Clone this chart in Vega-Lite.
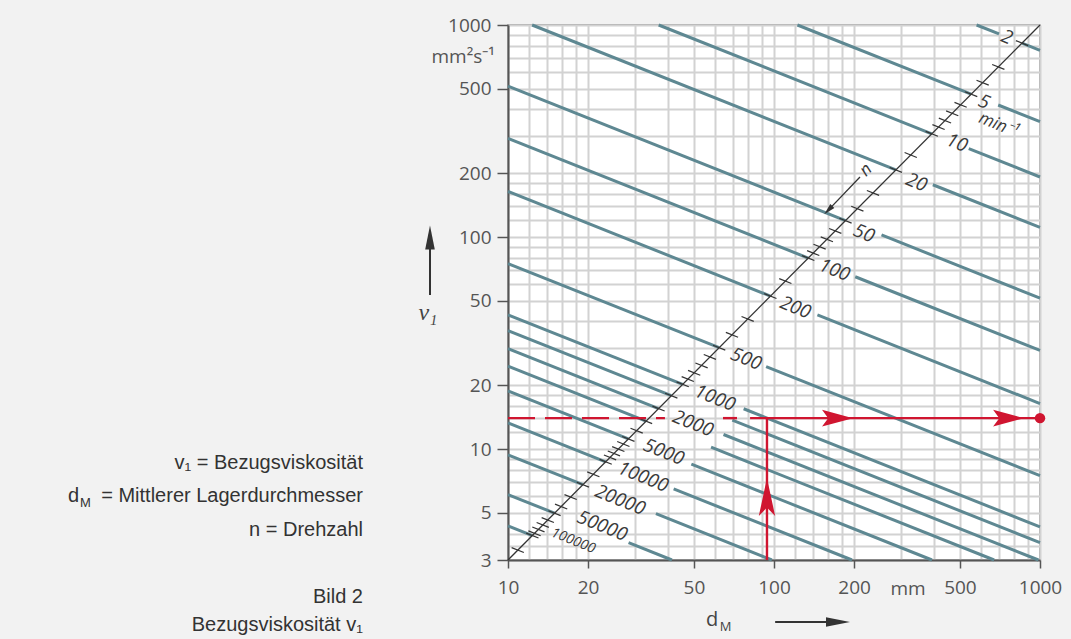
{
  "$schema": "https://vega.github.io/schema/vega-lite/v6.json",
  "width": 532,
  "height": 535,
  "autosize": {"type": "none"},
  "padding": {"left": 508, "top": 25, "right": 31, "bottom": 79},
  "background": "#f2f2f2",
  "config": {
    "view": {"fill": "#ffffff", "stroke": "#8c8c8c", "strokeWidth": 1.5},
    "axis": {"labelFont": "Open Sans", "labelFontSize": 19, "labelColor": "#555555", "domainColor": "#555555", "domainWidth": 2, "tickColor": "#555555", "tickWidth": 1.5, "gridColor": "#d2d2d2", "gridWidth": 2, "labelFlush": false, "labelOverlap": false}
  },
  "datasets": {
    "iso": [
      {"id": "2a", "dm": 577.6, "v": 1000}, {"id": "2a", "dm": 701.4, "v": 907.5},
      {"id": "2b", "dm": 855.6, "v": 821.4}, {"id": "2b", "dm": 1000, "v": 760},
      {"id": "5a", "dm": 122.5, "v": 1000}, {"id": "5a", "dm": 551.0, "v": 471.6},
      {"id": "5b", "dm": 696.2, "v": 419.5}, {"id": "5b", "dm": 1000, "v": 350},
      {"id": "10a", "dm": 36.86, "v": 1000}, {"id": "10a", "dm": 391.9, "v": 306.7},
      {"id": "10b", "dm": 539.8, "v": 261.3}, {"id": "10b", "dm": 1000, "v": 192},
      {"id": "20a", "dm": 12.32, "v": 1000}, {"id": "20a", "dm": 287.1, "v": 207.2},
      {"id": "20b", "dm": 395.5, "v": 176.5}, {"id": "20b", "dm": 1000, "v": 111},
      {"id": "50a", "dm": 10, "v": 515}, {"id": "50a", "dm": 185.7, "v": 119.5},
      {"id": "50b", "dm": 253.6, "v": 102.3}, {"id": "50b", "dm": 1000, "v": 51.5},
      {"id": "100a", "dm": 10, "v": 292}, {"id": "100a", "dm": 134.5, "v": 79.6},
      {"id": "100b", "dm": 202.0, "v": 65.0}, {"id": "100b", "dm": 1000, "v": 29.2},
      {"id": "200a", "dm": 10, "v": 164}, {"id": "200a", "dm": 96.9, "v": 52.7},
      {"id": "200b", "dm": 145.6, "v": 43.0}, {"id": "200b", "dm": 1000, "v": 16.4},
      {"id": "500a", "dm": 10, "v": 75}, {"id": "500a", "dm": 62.2, "v": 30.1},
      {"id": "500b", "dm": 93.4, "v": 24.5}, {"id": "500b", "dm": 1000, "v": 7.5},
      {"id": "1000a", "dm": 10, "v": 43}, {"id": "1000a", "dm": 45.35, "v": 20.2},
      {"id": "1000b", "dm": 76.9, "v": 15.5}, {"id": "1000b", "dm": 1000, "v": 4.3},
      {"id": "1500a", "dm": 10, "v": 36.2}, {"id": "1500a", "dm": 41.1, "v": 17.86},
      {"id": "1500b", "dm": 69.7, "v": 13.7}, {"id": "1500b", "dm": 1000, "v": 3.62},
      {"id": "2000a", "dm": 10, "v": 29.8}, {"id": "2000a", "dm": 36.8, "v": 15.54},
      {"id": "2000b", "dm": 64.6, "v": 11.72}, {"id": "2000b", "dm": 986.7, "v": 3},
      {"id": "3000a", "dm": 10, "v": 24.6}, {"id": "3000a", "dm": 33.03, "v": 13.54},
      {"id": "3000b", "dm": 58.0, "v": 10.21}, {"id": "3000b", "dm": 672.4, "v": 3},
      {"id": "5000a", "dm": 10, "v": 18.8}, {"id": "5000a", "dm": 28.35, "v": 11.17},
      {"id": "5000b", "dm": 48.9, "v": 8.5}, {"id": "5000b", "dm": 392.7, "v": 3},
      {"id": "10000a", "dm": 10, "v": 13.3}, {"id": "10000a", "dm": 23.29, "v": 8.71},
      {"id": "10000b", "dm": 41.95, "v": 6.49}, {"id": "10000b", "dm": 196.5, "v": 3},
      {"id": "20000a", "dm": 10, "v": 9.4}, {"id": "20000a", "dm": 19.12, "v": 6.8},
      {"id": "20000b", "dm": 35.98, "v": 4.96}, {"id": "20000b", "dm": 98.2, "v": 3},
      {"id": "50000a", "dm": 10, "v": 6.1}, {"id": "50000a", "dm": 14.96, "v": 4.99},
      {"id": "50000b", "dm": 28.4, "v": 3.62}, {"id": "50000b", "dm": 41.34, "v": 3},
      {"id": "100000a", "dm": 10, "v": 4.35}, {"id": "100000a", "dm": 12.35, "v": 3.91}
    ],
    "diag": [{"dm": 10, "v": 3}, {"dm": 1000, "v": 1000}],
    "nticks": [
      {"n": 2, "dm": 855.6, "v": 821.4}, {"n": 3, "dm": 697.0, "v": 634.3}, {"n": 4, "dm": 608.6, "v": 534.7},
      {"n": 5, "dm": 551.0, "v": 471.6}, {"n": 6, "dm": 502.9, "v": 420.3}, {"n": 7, "dm": 467.7, "v": 383.4},
      {"n": 8, "dm": 439.2, "v": 354.1}, {"n": 9, "dm": 415.5, "v": 330.2}, {"n": 10, "dm": 391.9, "v": 306.7},
      {"n": 15, "dm": 326.6, "v": 243.8}, {"n": 20, "dm": 287.1, "v": 207.2}, {"n": 30, "dm": 235.6, "v": 161.4},
      {"n": 40, "dm": 205.7, "v": 136.1}, {"n": 50, "dm": 185.7, "v": 119.5}, {"n": 60, "dm": 169.9, "v": 106.9},
      {"n": 70, "dm": 158.0, "v": 97.55}, {"n": 80, "dm": 148.4, "v": 90.1}, {"n": 90, "dm": 140.4, "v": 84.0},
      {"n": 100, "dm": 134.5, "v": 79.6}, {"n": 150, "dm": 110.3, "v": 62.0}, {"n": 200, "dm": 96.9, "v": 52.7},
      {"n": 300, "dm": 79.6, "v": 41.1}, {"n": 400, "dm": 69.5, "v": 34.6}, {"n": 500, "dm": 62.2, "v": 30.1},
      {"n": 600, "dm": 57.4, "v": 27.2}, {"n": 700, "dm": 53.4, "v": 24.8}, {"n": 800, "dm": 50.1, "v": 22.9},
      {"n": 900, "dm": 47.4, "v": 21.4}, {"n": 1000, "dm": 45.35, "v": 20.2}, {"n": 1500, "dm": 41.1, "v": 17.86},
      {"n": 2000, "dm": 36.8, "v": 15.54}, {"n": 3000, "dm": 33.03, "v": 13.54}, {"n": 4000, "dm": 30.45, "v": 12.22},
      {"n": 5000, "dm": 28.35, "v": 11.17}, {"n": 6000, "dm": 27.14, "v": 10.57}, {"n": 7000, "dm": 25.98, "v": 10.0},
      {"n": 8000, "dm": 25.01, "v": 9.54}, {"n": 9000, "dm": 24.19, "v": 9.14}, {"n": 10000, "dm": 23.29, "v": 8.71},
      {"n": 15000, "dm": 20.93, "v": 7.61}, {"n": 20000, "dm": 19.12, "v": 6.8}, {"n": 30000, "dm": 17.19, "v": 5.94},
      {"n": 40000, "dm": 15.84, "v": 5.36}, {"n": 50000, "dm": 14.96, "v": 4.99}, {"n": 60000, "dm": 14.11, "v": 4.63},
      {"n": 70000, "dm": 13.51, "v": 4.39}, {"n": 80000, "dm": 13.01, "v": 4.18}, {"n": 90000, "dm": 12.58, "v": 4.01},
      {"n": 100000, "dm": 12.35, "v": 3.91}, {"n": 150000, "dm": 10.88, "v": 3.34}
    ],
    "nlabels": [
      {"t": "2", "dm": 751, "v": 877}, {"t": "5", "dm": 616, "v": 434}, {"t": "10", "dm": 487, "v": 278},
      {"t": "20", "dm": 343, "v": 181}, {"t": "50", "dm": 218, "v": 104}, {"t": "100", "dm": 168.8, "v": 69.9},
      {"t": "200", "dm": 120.4, "v": 46.5}, {"t": "500", "dm": 78.5, "v": 26.6}, {"t": "1000", "dm": 60.0, "v": 17.4},
      {"t": "2000", "dm": 49.6, "v": 13.2}, {"t": "5000", "dm": 38.5, "v": 9.7}, {"t": "10000", "dm": 32.2, "v": 7.39},
      {"t": "20000", "dm": 26.4, "v": 5.75}, {"t": "50000", "dm": 22.6, "v": 4.34}
    ],
    "smalllabel": [{"t": "100000", "dm": 17.6, "v": 3.69}],
    "unitlabel": [{"t": "min⁻¹", "dm": 698, "v": 337.6}],
    "nname": [{"t": "n", "dm": 221.8, "v": 207.1}],
    "narrow": [{"s": "n", "dm": 210.5, "v": 192.0}, {"s": "n", "dm": 160, "v": 134}],
    "nhead": [{"dm": 160, "v": 134}],
    "reddash": [
      {"s": "a", "dm": 10, "v": 14}, {"s": "a", "dm": 38.9, "v": 14},
      {"s": "b", "dm": 64.3, "v": 14}, {"s": "b", "dm": 72.6, "v": 14}
    ],
    "redsolid": [
      {"s": "h", "dm": 81.3, "v": 14}, {"s": "h", "dm": 1000, "v": 14},
      {"s": "v", "dm": 94.1, "v": 3}, {"s": "v", "dm": 94.1, "v": 14}
    ],
    "redhead": [{"dm": 173.3, "v": 14}, {"dm": 762, "v": 14}],
    "redup": [{"dm": 94.1, "v": 5.94}],
    "reddot": [{"dm": 1000, "v": 14}],
    "notes": [
      {"t": "v₁ = Bezugsviskosität", "dm": 2.85, "v": 8.6},
      {"t": "= Mittlerer Lagerdurchmesser", "dm": 2.85, "v": 6.01},
      {"t": "n = Drehzahl", "dm": 2.85, "v": 4.155},
      {"t": "Bild 2", "dm": 2.85, "v": 2.0},
      {"t": "Bezugsviskosität v₁", "dm": 2.85, "v": 1.48}
    ],
    "noted": [{"t": "d", "dm": 0.2218, "v": 6.01}],
    "notem": [{"t": "M", "dm": 0.246, "v": 5.6}],
    "xunit": [{"t": "mm", "dm": 319, "v": 2.2}],
    "yunit": [{"t": "mm²s⁻¹", "dm": 8.93, "v": 706}],
    "ytitle": [{"t": "ν₁", "dm": 5.0, "v": 43.8}],
    "yarrow": [{"dm": 5.09, "v": 53.3, "v2": 92}],
    "yhead": [{"dm": 5.09, "v": 99.5}],
    "xtitled": [{"t": "d", "dm": 58.5, "v": 1.56}],
    "xtitlem": [{"t": "M", "dm": 62.5, "v": 1.45}],
    "xarrow": [{"dm": 101, "dm2": 170, "v": 1.53}],
    "xhead": [{"dm": 174, "v": 1.53}]
  },
  "resolve": {"axis": {"x": "independent", "y": "independent"}},
  "layer": [
    {
      "data": {"name": "iso"},
      "mark": {"type": "line", "color": "#5e8892", "strokeWidth": 3},
      "encoding": {
        "x": {"field": "dm", "type": "quantitative", "scale": {"type": "log", "domain": [10, 1000], "nice": false},
              "axis": {"orient": "top", "values": [10, 12, 14, 16, 18, 20, 30, 40, 50, 60, 70, 80, 90, 100, 120, 140, 160, 180, 200, 300, 400, 500, 600, 700, 800, 900, 1000], "grid": true, "labels": false, "ticks": false, "domain": false, "title": null}},
        "y": {"field": "v", "type": "quantitative", "scale": {"type": "log", "domain": [3, 1000], "nice": false},
              "axis": {"orient": "right", "values": [3, 3.5, 4, 5, 6, 7, 8, 9, 10, 12, 14, 16, 18, 20, 30, 40, 50, 60, 70, 80, 90, 100, 120, 140, 160, 180, 200, 300, 400, 500, 600, 700, 800, 900, 1000], "grid": true, "labels": false, "ticks": false, "domain": false, "title": null}},
        "detail": {"field": "id"}
      }
    },
    {
      "data": {"name": "diag"},
      "mark": {"type": "line", "color": "#333333", "strokeWidth": 1.3},
      "encoding": {
        "x": {"field": "dm", "type": "quantitative", "scale": {"type": "log", "domain": [10, 1000], "nice": false},
              "axis": {"orient": "bottom", "values": [10, 20, 50, 100, 200, 500, 1000], "format": "d", "grid": false, "tickSize": 8, "labelPadding": 10, "title": null}},
        "y": {"field": "v", "type": "quantitative", "scale": {"type": "log", "domain": [3, 1000], "nice": false},
              "axis": {"orient": "left", "values": [3, 5, 10, 20, 50, 100, 200, 500, 1000], "format": "d", "grid": false, "tickSize": 11, "labelPadding": 6, "title": null}}
      }
    },
    {
      "data": {"name": "nticks"},
      "mark": {"type": "point", "shape": "M-1,-0.4L1,0.4", "size": 150, "stroke": "#333333", "strokeWidth": 1.2, "filled": false, "opacity": 1},
      "encoding": {
        "x": {"field": "dm", "type": "quantitative", "axis": null},
        "y": {"field": "v", "type": "quantitative", "axis": null}
      }
    },
    {
      "data": {"name": "nlabels"},
      "mark": {"type": "text", "font": "Open Sans", "fontStyle": "italic", "fontSize": 19, "color": "#3a3a3a", "angle": 22, "align": "center", "baseline": "middle"},
      "encoding": {
        "x": {"field": "dm", "type": "quantitative", "axis": null},
        "y": {"field": "v", "type": "quantitative", "axis": null},
        "text": {"field": "t"}
      }
    },
    {
      "data": {"name": "smalllabel"},
      "mark": {"type": "text", "font": "Open Sans", "fontStyle": "italic", "fontSize": 14, "color": "#3a3a3a", "angle": 22, "align": "center", "baseline": "middle"},
      "encoding": {
        "x": {"field": "dm", "type": "quantitative", "axis": null},
        "y": {"field": "v", "type": "quantitative", "axis": null},
        "text": {"field": "t"}
      }
    },
    {
      "data": {"name": "unitlabel"},
      "mark": {"type": "text", "font": "Open Sans", "fontStyle": "italic", "fontSize": 17, "color": "#3a3a3a", "angle": 22, "align": "center", "baseline": "middle"},
      "encoding": {
        "x": {"field": "dm", "type": "quantitative", "axis": null},
        "y": {"field": "v", "type": "quantitative", "axis": null},
        "text": {"field": "t"}
      }
    },
    {
      "data": {"name": "nname"},
      "mark": {"type": "text", "font": "Open Sans", "fontStyle": "italic", "fontSize": 17, "color": "#3a3a3a", "angle": -45, "align": "center", "baseline": "middle"},
      "encoding": {
        "x": {"field": "dm", "type": "quantitative", "axis": null},
        "y": {"field": "v", "type": "quantitative", "axis": null},
        "text": {"field": "t"}
      }
    },
    {
      "data": {"name": "narrow"},
      "mark": {"type": "line", "color": "#333333", "strokeWidth": 1.3},
      "encoding": {
        "x": {"field": "dm", "type": "quantitative", "axis": null},
        "y": {"field": "v", "type": "quantitative", "axis": null},
        "detail": {"field": "s"}
      }
    },
    {
      "data": {"name": "nhead"},
      "mark": {"type": "point", "shape": "M1,0L-1,-0.5L-1,0.5Z", "size": 130, "angle": 134.8, "fill": "#333333", "filled": true, "opacity": 1, "strokeWidth": 0},
      "encoding": {
        "x": {"field": "dm", "type": "quantitative", "axis": null},
        "y": {"field": "v", "type": "quantitative", "axis": null}
      }
    },
    {
      "data": {"name": "reddash"},
      "mark": {"type": "line", "color": "#d01530", "strokeWidth": 2.4, "strokeDash": [27, 10]},
      "encoding": {
        "x": {"field": "dm", "type": "quantitative", "axis": null},
        "y": {"field": "v", "type": "quantitative", "axis": null},
        "detail": {"field": "s"}
      }
    },
    {
      "data": {"name": "redsolid"},
      "mark": {"type": "line", "color": "#d01530", "strokeWidth": 2.4},
      "encoding": {
        "x": {"field": "dm", "type": "quantitative", "axis": null},
        "y": {"field": "v", "type": "quantitative", "axis": null},
        "detail": {"field": "s"}
      }
    },
    {
      "data": {"name": "redhead"},
      "mark": {"type": "point", "shape": "M1,0L-1,-0.54L-0.6,0L-1,0.54Z", "size": 961, "fill": "#d01530", "filled": true, "opacity": 1, "strokeWidth": 0},
      "encoding": {
        "x": {"field": "dm", "type": "quantitative", "axis": null},
        "y": {"field": "v", "type": "quantitative", "axis": null}
      }
    },
    {
      "data": {"name": "redup"},
      "mark": {"type": "point", "shape": "M0,-1L0.43,1L0,0.55L-0.43,1Z", "size": 1444, "fill": "#d01530", "filled": true, "opacity": 1, "strokeWidth": 0},
      "encoding": {
        "x": {"field": "dm", "type": "quantitative", "axis": null},
        "y": {"field": "v", "type": "quantitative", "axis": null}
      }
    },
    {
      "data": {"name": "reddot"},
      "mark": {"type": "point", "shape": "circle", "size": 110, "fill": "#d01530", "filled": true, "opacity": 1, "strokeWidth": 0},
      "encoding": {
        "x": {"field": "dm", "type": "quantitative", "axis": null},
        "y": {"field": "v", "type": "quantitative", "axis": null}
      }
    },
    {
      "data": {"name": "notes"},
      "mark": {"type": "text", "font": "Liberation Sans", "fontSize": 20, "color": "#333333", "align": "right", "baseline": "middle"},
      "encoding": {
        "x": {"field": "dm", "type": "quantitative", "axis": null},
        "y": {"field": "v", "type": "quantitative", "axis": null},
        "text": {"field": "t"}
      }
    },
    {
      "data": {"name": "noted"},
      "mark": {"type": "text", "font": "Liberation Sans", "fontSize": 20, "color": "#333333", "align": "left", "baseline": "middle"},
      "encoding": {
        "x": {"field": "dm", "type": "quantitative", "axis": null},
        "y": {"field": "v", "type": "quantitative", "axis": null},
        "text": {"field": "t"}
      }
    },
    {
      "data": {"name": "notem"},
      "mark": {"type": "text", "font": "Liberation Sans", "fontSize": 13, "color": "#333333", "align": "left", "baseline": "middle"},
      "encoding": {
        "x": {"field": "dm", "type": "quantitative", "axis": null},
        "y": {"field": "v", "type": "quantitative", "axis": null},
        "text": {"field": "t"}
      }
    },
    {
      "data": {"name": "xunit"},
      "mark": {"type": "text", "font": "Open Sans", "fontSize": 19, "color": "#555555", "align": "center", "baseline": "middle"},
      "encoding": {
        "x": {"field": "dm", "type": "quantitative", "axis": null},
        "y": {"field": "v", "type": "quantitative", "axis": null},
        "text": {"field": "t"}
      }
    },
    {
      "data": {"name": "yunit"},
      "mark": {"type": "text", "font": "Open Sans", "fontSize": 19, "color": "#555555", "align": "right", "baseline": "middle"},
      "encoding": {
        "x": {"field": "dm", "type": "quantitative", "axis": null},
        "y": {"field": "v", "type": "quantitative", "axis": null},
        "text": {"field": "t"}
      }
    },
    {
      "data": {"name": "ytitle"},
      "mark": {"type": "text", "font": "Liberation Serif", "fontStyle": "italic", "fontSize": 24, "color": "#444444", "align": "center", "baseline": "middle"},
      "encoding": {
        "x": {"field": "dm", "type": "quantitative", "axis": null},
        "y": {"field": "v", "type": "quantitative", "axis": null},
        "text": {"field": "t"}
      }
    },
    {
      "data": {"name": "yarrow"},
      "mark": {"type": "rule", "color": "#333333", "strokeWidth": 2},
      "encoding": {
        "x": {"field": "dm", "type": "quantitative", "axis": null},
        "y": {"field": "v", "type": "quantitative", "axis": null},
        "y2": {"field": "v2"}
      }
    },
    {
      "data": {"name": "yhead"},
      "mark": {"type": "point", "shape": "M0,-1L0.4,1L-0.4,1Z", "size": 576, "fill": "#333333", "filled": true, "opacity": 1, "strokeWidth": 0},
      "encoding": {
        "x": {"field": "dm", "type": "quantitative", "axis": null},
        "y": {"field": "v", "type": "quantitative", "axis": null}
      }
    },
    {
      "data": {"name": "xtitled"},
      "mark": {"type": "text", "font": "Open Sans", "fontSize": 20, "color": "#444444", "align": "center", "baseline": "middle"},
      "encoding": {
        "x": {"field": "dm", "type": "quantitative", "axis": null},
        "y": {"field": "v", "type": "quantitative", "axis": null},
        "text": {"field": "t"}
      }
    },
    {
      "data": {"name": "xtitlem"},
      "mark": {"type": "text", "font": "Open Sans", "fontSize": 13, "color": "#444444", "align": "left", "baseline": "middle"},
      "encoding": {
        "x": {"field": "dm", "type": "quantitative", "axis": null},
        "y": {"field": "v", "type": "quantitative", "axis": null},
        "text": {"field": "t"}
      }
    },
    {
      "data": {"name": "xarrow"},
      "mark": {"type": "rule", "color": "#333333", "strokeWidth": 2},
      "encoding": {
        "x": {"field": "dm", "type": "quantitative", "axis": null},
        "x2": {"field": "dm2"},
        "y": {"field": "v", "type": "quantitative", "axis": null}
      }
    },
    {
      "data": {"name": "xhead"},
      "mark": {"type": "point", "shape": "M1,0L-1,-0.4L-1,0.4Z", "size": 576, "fill": "#333333", "filled": true, "opacity": 1, "strokeWidth": 0},
      "encoding": {
        "x": {"field": "dm", "type": "quantitative", "axis": null},
        "y": {"field": "v", "type": "quantitative", "axis": null}
      }
    }
  ]
}
